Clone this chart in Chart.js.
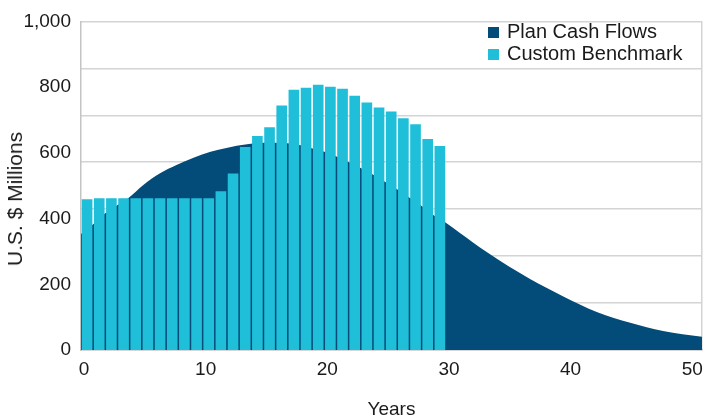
<!DOCTYPE html>
<html>
<head>
<meta charset="utf-8">
<script src="https://cdn.jsdelivr.net/npm/chart.js@4"></script>
<style>
  body { margin: 0; background: #fff; }
  #wrap { position: relative; width: 704px; height: 417px; }
  #legend { position: absolute; left: 488px; top: 20px; font: 20px "Liberation Sans", Arial, sans-serif; color: #1a1a1a; }
  #legend div { height: 22px; line-height: 22px; white-space: nowrap; }
  #legend span { display: inline-block; width: 11px; height: 11px; margin-right: 8px; vertical-align: 0px; }
  #ytitle { position: absolute; left: 15px; top: 199px; transform: translate(-50%, -50%) rotate(-90deg);
            font: 21px "Liberation Sans", Arial, sans-serif; color: #1a1a1a; white-space: nowrap; }
</style>
</head>
<body>
<div id="wrap">
  <canvas id="chart" width="704" height="417"></canvas>
  <div id="legend"></div>
  <div id="ytitle">U.S. $ Millions</div>
</div>
<script>
// Plan cash flows (area), sampled along the curve
const areaYears  = [-0.25, 0.75, 1.7, 2.7, 3.6, 4.9, 6.25, 7.6, 9, 10.4, 11.7, 13.4, 14.7, 16.7, 17.7, 18.7, 19.7, 20.7, 21.7, 22.7, 23.7, 24.7, 25.7, 26.7, 27.7, 28.7, 29.8, 30.9, 33.1, 36.7, 39.4, 42.2, 44.9, 47.6, 50.8];
const areaValues = [353, 383, 415, 440, 461, 503, 538, 563, 585, 603, 615, 626, 631, 629, 624, 614, 604, 590, 573, 555, 535, 513, 490, 465, 440, 411, 386, 356, 298, 215, 163, 115, 83, 58, 40];

// Custom benchmark (bars), one per year
const barYears  = [0,1,2,3,4,5,6,7,8,9,10,11,12,13,14,15,16,17,18,19,20,21,22,23,24,25,26,27,28,29];
const barValues = [458, 461, 461, 461, 461, 461, 461, 461, 461, 461, 461, 482, 536, 617, 650, 677, 743, 791, 797, 806, 800, 794, 773, 752, 737, 725, 704, 686, 641, 620];

const xTicks = [0, 10, 20, 30, 40, 50];
const yTicks = [0, 200, 400, 600, 800, 1000];

const DARK = '#034b78';
const CYAN = '#1fbfda';
const GRID = '#d4d4d4';
const FONT = '"Liberation Sans", Arial, sans-serif';
const BAR_SHIFT = 0.25;

const legendItems = [['Plan Cash Flows', DARK], ['Custom Benchmark', CYAN]];
const lg = document.getElementById('legend');
legendItems.forEach(([name, col]) => {
  const d = document.createElement('div');
  d.innerHTML = '<span style="background:' + col + '"></span>' + name;
  lg.appendChild(d);
});

Chart.defaults.font.family = FONT;
Chart.defaults.color = '#1a1a1a';

new Chart(document.getElementById('chart'), {
  data: {
    datasets: [
      {
        type: 'line',
        label: 'Plan Cash Flows',
        data: areaYears.map((x, i) => ({ x, y: areaValues[i] })),
        backgroundColor: DARK,
        borderWidth: 0,
        pointRadius: 0,
        fill: 'origin',
        cubicInterpolationMode: 'monotone',
        order: 1
      },
      {
        type: 'bar',
        label: 'Custom Benchmark',
        data: barYears.map((x, i) => ({ x: x + BAR_SHIFT, y: barValues[i] })),
        backgroundColor: CYAN,
        barThickness: 10,
        order: 0
      }
    ]
  },
  options: {
    responsive: false,
    animation: false,
    layout: { padding: { top: 16, right: 2, left: 0, bottom: 0 } },
    plugins: { legend: { display: false }, tooltip: { enabled: false } },
    scales: {
      x: {
        type: 'linear',
        offset: false,
        min: -0.25,
        max: 50.8,
        afterBuildTicks: s => { s.ticks = xTicks.map(v => ({ value: v })); },
        afterFit: s => { s.height = 67; s.paddingRight = 0; s.paddingLeft = 0; },
        grid: { display: false, drawTicks: false },
        border: { color: '#c4c4c4', width: 1.5 },
        ticks: { font: { size: 19 }, padding: 8, maxRotation: 0 },
        title: { display: true, text: 'Years', font: { size: 19 }, padding: { top: 4, bottom: -4 } }
      },
      y: {
        min: 0,
        max: 1000,
        afterBuildTicks: s => { s.ticks = yTicks.map(v => ({ value: v })); },
        afterFit: s => { s.width = 81; },
        grid: { display: false, drawTicks: false },
        border: { color: '#c4c4c4', width: 1.5 },
        ticks: { font: { size: 19 }, padding: 10, callback: v => v.toLocaleString('en-US') }
      },
      yg: {
        position: 'right',
        min: 0,
        max: 7,
        afterBuildTicks: s => { s.ticks = [0,1,2,3,4,5,6,7].map(v => ({ value: v })); },
        afterFit: s => { s.width = 0; },
        grid: { color: GRID, lineWidth: 1.5, drawTicks: false },
        border: { color: GRID, width: 1.5 },
        ticks: { display: false }
      }
    }
  }
});
</script>
</body>
</html>
